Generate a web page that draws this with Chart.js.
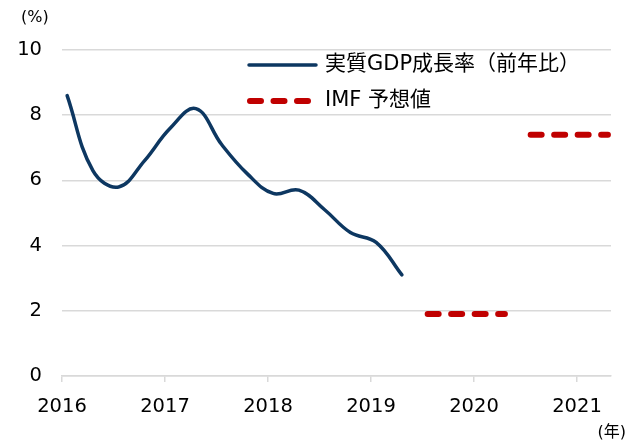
<!DOCTYPE html>
<html>
<head>
<meta charset="utf-8">
<script src="https://cdn.jsdelivr.net/npm/chart.js@4.4.1/dist/chart.umd.min.js"></script>
<style>
  html, body { margin: 0; padding: 0; background: #fff; }
</style>
</head>
<body>
<canvas id="gdpChart" width="638" height="444"></canvas>
<script>
// 四半期データ
const gdpQuarters = ['2016Q1', '2016Q2', '2016Q3', '2016Q4', '2017Q1', '2017Q2', '2017Q3', '2017Q4',
                     '2018Q1', '2018Q2', '2018Q3', '2018Q4', '2019Q1', '2019Q2'];
const gdpValues = [8.6, 6.3, 5.8, 6.6, 7.6, 8.2, 7.1, 6.2, 5.6, 5.7, 5.1, 4.4, 4.1, 3.1];

const imfQuarters2020 = ['2019Q3', '2019Q4', '2020Q1', '2020Q2'];
const imfValues2020 = [1.9, 1.9, 1.9, 1.9];
const imfQuarters2021 = ['2020Q3', '2020Q4', '2021Q1', '2021Q2'];
const imfValues2021 = [7.4, 7.4, 7.4, 7.4];

const yearTicks = [2016, 2017, 2018, 2019, 2020, 2021];
const legendLabels = ['実質GDP成長率（前年比）', 'IMF 予想値'];

const NAVY = '#0d3761';
const RED = '#c00000';
const GRID = '#d9d9d9';
const FONT = "'DejaVu Sans', 'Noto Sans CJK JP', sans-serif";

// '2016Q1' -> 軸上の位置
function quarterPos(q) {
    const year = parseInt(q.slice(0, 4), 10);
    const n = parseInt(q.slice(5), 10);
    return year + (n - 1) * 0.25 + 0.05;
}

function toPoints(quarters, values) {
    return quarters.map((q, i) => ({ x: quarterPos(q), y: values[i] }));
}

// 凡例と単位ラベル
const extraText = {
    id: 'extraText',
    afterDraw(chart) {
        const ctx = chart.ctx;
        const ds = chart.data.datasets;
        ctx.save();

        // 凡例
        const rows = [
            { d: ds[0], y: 65, x0: 249, x1: 316 },
            { d: ds[1], y: 101, x0: 250, x1: 309 }
        ];
        rows.forEach(r => {
            ctx.beginPath();
            ctx.strokeStyle = r.d.borderColor;
            ctx.lineWidth = r.d.borderWidth;
            ctx.lineCap = r.d.borderCapStyle;
            ctx.setLineDash(r.d.borderDash || []);
            ctx.moveTo(r.x0, r.y);
            ctx.lineTo(r.x1, r.y);
            ctx.stroke();
            ctx.setLineDash([]);
            ctx.fillStyle = '#000';
            ctx.font = '21px ' + FONT;
            ctx.textAlign = 'left';
            ctx.textBaseline = 'middle';
            ctx.fillText(r.d.label, 325, r.y);
        });

        // 単位
        ctx.font = '16px ' + FONT;
        ctx.textAlign = 'left';
        ctx.fillText('(%)', 21, 18);
        ctx.textAlign = 'right';
        ctx.fillText('(年)', 626, 433);
        ctx.restore();
    }
};

new Chart(document.getElementById('gdpChart'), {
    type: 'line',
    data: {
        datasets: [{
            label: legendLabels[0],
            data: toPoints(gdpQuarters, gdpValues),
            borderColor: NAVY,
            borderWidth: 3.5,
            borderCapStyle: 'round',
            tension: 0.4,
            pointRadius: 0
        }, {
            label: legendLabels[1],
            data: toPoints(imfQuarters2020, imfValues2020),
            borderColor: RED,
            borderWidth: 6,
            borderCapStyle: 'round',
            borderDash: [11, 12.5],
            pointRadius: 0
        }, {
            label: legendLabels[1],
            data: toPoints(imfQuarters2021, imfValues2021),
            borderColor: RED,
            borderWidth: 6,
            borderCapStyle: 'round',
            borderDash: [11, 12.5],
            pointRadius: 0
        }]
    },
    options: {
        responsive: false,
        animation: false,
        layout: { padding: { left: 0, right: 27, top: 50, bottom: 0 } },
        plugins: {
            legend: { display: false },
            tooltip: { enabled: false }
        },
        scales: {
            x: {
                type: 'linear',
                min: 2016,
                max: 2021.33,
                afterFit: s => { s.height = 68; },
                afterBuildTicks: s => { s.ticks = yearTicks.map(v => ({ value: v })); },
                ticks: {
                    includeBounds: false,
                    padding: 13,
                    color: '#000',
                    font: { family: FONT, size: 19.5 },
                    callback: v => String(v)
                },
                grid: {
                    drawOnChartArea: false,
                    drawTicks: true,
                    tickLength: 6,
                    color: GRID,
                    lineWidth: 1.5
                },
                border: { color: GRID, width: 1.5 }
            },
            y: {
                min: 0,
                max: 10,
                afterFit: s => { s.width = 62; },
                ticks: {
                    stepSize: 2,
                    padding: 20,
                    color: '#000',
                    font: { family: FONT, size: 19.5 }
                },
                grid: {
                    drawTicks: false,
                    color: GRID,
                    lineWidth: 1.5
                },
                border: { display: false }
            }
        }
    },
    plugins: [extraText]
});
</script>
</body>
</html>
